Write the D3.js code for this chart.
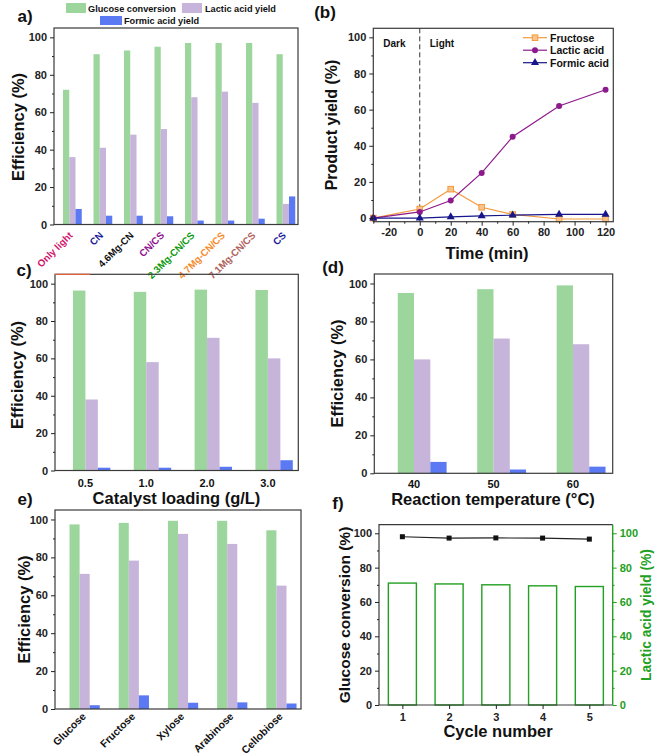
<!DOCTYPE html>
<html><head><meta charset="utf-8">
<script src="https://cdn.jsdelivr.net/npm/d3@7"></script>
<style>body{margin:0;background:#fff} text{font-family:"Liberation Sans",Arial,sans-serif;font-weight:bold}</style>
</head><body><svg id="c" width="661" height="755"></svg>
<script>
// ---------- data ----------
const catA = ["Only light","CN","4.6Mg-CN","CN/CS","2.3Mg-CN/CS","4.7Mg-CN/CS","7.1Mg-CN/CS","CS"];
const catAColors = ["#D1146A","#1B1B9A","#111111","#8E0F8E","#0E9A0E","#F58A2A","#B0605A","#1B1B9A"];
const glucoseA = [72,91,93,95,97,97,97,91];
const lacticA = [36,41,48,51,68,71,65,11];
const formicA = [8.3,4.7,4.7,4.4,2.1,2.1,3.1,15];

const timeB = [-30,0,20,40,60,90,120];
const fructoseB = [0,5,16,6,2,-0.5,-0.5];
const lacticB = [0,3.4,9.7,25,45,62,71];
const formicB = [0,0,0.7,1.2,1.6,2,2];

const catC = ["0.5","1.0","2.0","3.0"];
const glucoseC = [96.3,95.6,96.8,96.6];
const lacticC = [38,58,71,60];
const formicC = [1.5,1.5,2,5.5];

const catD = ["40","50","60"];
const glucoseD = [95,97,99];
const lacticD = [60,71,68];
const formicD = [6,2,3.5];

const catE = ["Glucose","Fructose","Xylose","Arabinose","Cellobiose"];
const glucoseE = [97.4,98.2,99.3,99.3,94.3];
const lacticE = [71.3,78.3,92.4,87.1,65.1];
const formicE = [2,7.2,3.3,3.5,2.9];

const cycles = [1,2,3,4,5];
const convF = [98,97.2,97.3,97.2,96.6];
const lacticF = [71,70.5,70,69.4,69];

const yMajor = [0,20,40,60,80,100];
const yMinor = [10,30,50,70,90];

// ---------- styles ----------
const GREEN="#9CD69C", PURPLE="#C6B4DA", BLUE="#5B79F2", FRAME="#3a3a3a";
const svg = d3.select("#c");

function styleAxis(g, color, fs){
  g.select(".domain").remove();
  g.selectAll("line").attr("stroke",color).attr("stroke-width",1);
  g.selectAll("text").attr("font-size",fs||11).attr("fill",color);
}
function leftAxis(y, x, color){
  color = color||"#222";
  svg.append("g").attr("transform",`translate(${x},0)`)
    .call(d3.axisLeft(y).tickValues(yMajor).tickSize(4).tickPadding(3))
    .call(g=>styleAxis(g,color));
  svg.append("g").attr("transform",`translate(${x},0)`)
    .call(d3.axisLeft(y).tickValues(yMinor).tickSize(2).tickFormat(""))
    .call(g=>styleAxis(g,color));
}
function frame(x0,yt,x1,yb){
  svg.append("rect").attr("x",x0).attr("y",yt).attr("width",x1-x0).attr("height",yb-yt)
    .attr("fill","none").attr("stroke",FRAME).attr("stroke-width",1.2);
}
function vTitle(txt,x,y,fs,color,rot){
  svg.append("text").attr("transform",`translate(${x},${y}) rotate(${rot||-90})`)
    .attr("text-anchor","middle").attr("dominant-baseline","central")
    .attr("font-size",fs).attr("fill",color||"#111").text(txt);
}
function hText(txt,x,y,fs,anchor,color){
  svg.append("text").attr("x",x).attr("y",y).attr("text-anchor",anchor||"middle")
    .attr("font-size",fs).attr("fill",color||"#111").text(txt);
}

function barPanel(p){
  const {x0,x1,yt,yb,cats,g,l,f} = p;
  const xb = d3.scaleBand().domain(cats).range([x0,x1]).padding(0);
  const sub = d3.scaleBand().domain(["_","g","l","f"]).range([0,xb.step()]).paddingInner(0).paddingOuter(0.44);
  const y = d3.scaleLinear().domain([0,105]).range([yb,yt]);
  [["g",g,GREEN],["l",l,PURPLE],["f",f,BLUE]].forEach(([k,vals,col])=>{
    svg.append("g").selectAll("rect").data(vals).join("rect")
      .attr("x",(d,i)=>xb(cats[i])+sub(k)).attr("width",sub.bandwidth())
      .attr("y",d=>y(d)).attr("height",d=>yb-y(d)).attr("fill",col);
  });
  frame(x0,yt,x1,yb);
  leftAxis(y,x0);
  return c=>xb(c)+sub("l");
}

// ---------- panel a ----------
{
  const tick = barPanel({x0:54,x1:298,yt:28,yb:224.5,cats:catA,g:glucoseA,l:lacticA,f:formicA});
  catA.forEach((c,i)=>{
    svg.append("text").attr("transform",`translate(${tick(c)+4},236) rotate(-45)`)
      .attr("text-anchor","end").attr("font-size",9.8).attr("fill",catAColors[i]).text(c);
  });
  vTitle("Efficiency (%)",17.5,127,16.5);
  hText("a)",25,22,17);
  // legend
  const lg = [["Glucose conversion",GREEN,66,3,20,10,88,8.5],["Lactic acid yield",PURPLE,182,3,20,10,205,8.5],["Formic acid yield",BLUE,100,16,22,9,124,20.8]];
  lg.forEach(([t,c,x,y,w,h,tx,ty])=>{
    svg.append("rect").attr("x",x).attr("y",y).attr("width",w).attr("height",h).attr("fill",c);
    svg.append("text").attr("x",tx).attr("y",ty).attr("dominant-baseline","central").attr("font-size",9.2).attr("fill","#111").text(t);
  });
}

// ---------- panel b ----------
{
  const x0=373.3,x1=613.3,yt=28.3,yb=221.7;
  const x = d3.scaleLinear().domain([-30,125]).range([x0,x1]);
  const y = d3.scaleLinear().domain([-2,105]).range([yb,yt]);
  svg.append("line").attr("x1",x(0)).attr("x2",x(0)).attr("y1",yt).attr("y2",yb)
    .attr("stroke","#333").attr("stroke-dasharray","5,3").attr("stroke-width",1);
  hText("Dark",x(-30)+10,46.5,10,"start");
  hText("Light",x(0)+10,46.5,10,"start");
  const series = [
    {name:"Fructose",vals:fructoseB,col:"#F39A3E",mk:"sq"},
    {name:"Lactic acid",vals:lacticB,col:"#8C1A8C",mk:"ci"},
    {name:"Formic acid",vals:formicB,col:"#16168A",mk:"tr"}
  ];
  const line = d3.line().x((d,i)=>x(timeB[i])).y(d=>y(d));
  function marker(sel,type,col){
    if(type==="sq") sel.append("rect").attr("x",-2.8).attr("y",-2.8).attr("width",5.6).attr("height",5.6)
        .attr("fill","#F8C48C").attr("stroke",col).attr("stroke-width",1);
    else if(type==="ci") sel.append("circle").attr("r",3).attr("fill",col);
    else sel.append("path").attr("d",d3.symbol(d3.symbolTriangle,28)()).attr("fill",col);
  }
  series.forEach(s=>{
    svg.append("path").attr("d",line(s.vals)).attr("fill","none").attr("stroke",s.col).attr("stroke-width",1.2);
    s.vals.forEach((v,i)=>{
      const g = svg.append("g").attr("transform",`translate(${x(timeB[i])},${y(v)})`);
      marker(g,s.mk,s.col);
    });
  });
  // legend
  series.forEach((s,i)=>{
    const yy = 37.7+i*12.5;
    svg.append("line").attr("x1",523).attr("x2",547).attr("y1",yy).attr("y2",yy).attr("stroke",s.col).attr("stroke-width",1.2);
    marker(svg.append("g").attr("transform",`translate(535,${yy})`),s.mk,s.col);
    svg.append("text").attr("x",550).attr("y",yy).attr("dominant-baseline","central").attr("font-size",10.5).attr("fill","#111").text(s.name);
  });
  frame(x0,yt,x1,yb);
  leftAxis(y,x0);
  svg.append("g").attr("transform",`translate(0,${yb})`)
    .call(d3.axisBottom(x).tickValues([-20,0,20,40,60,80,100,120]).tickSize(4).tickPadding(3).tickFormat(d=>String(d)))
    .call(g=>styleAxis(g,"#222"));
  svg.append("g").attr("transform",`translate(0,${yb})`)
    .call(d3.axisBottom(x).tickValues([-30,-10,10,30,50,70,90,110]).tickSize(2).tickFormat(""))
    .call(g=>styleAxis(g,"#222"));
  vTitle("Product yield (%)",331,125,16);
  hText("Time (min)",487,258.5,16.5);
  hText("(b)",325,18,17);
}

// ---------- panel c ----------
{
  const tick = barPanel({x0:55,x1:298.3,yt:274.3,yb:470.5,cats:catC,g:glucoseC,l:lacticC,f:formicC});
  catC.forEach(c=>hText(c,tick(c),487,11));
  svg.append("line").attr("x1",55).attr("x2",90).attr("y1",274.3).attr("y2",274.3).attr("stroke","#E0603A").attr("stroke-width",1.2);
  vTitle("Efficiency (%)",16.5,375,16.5);
  hText("Catalyst loading (g/L)",176.5,504,16.5);
  hText("c)",24,276,17);
}

// ---------- panel d ----------
{
  const tick = barPanel({x0:374.3,x1:612.7,yt:274,yb:473.3,cats:catD,g:glucoseD,l:lacticD,f:formicD});
  catD.forEach(c=>hText(c,tick(c),488,11));
  vTitle("Efficiency (%)",337,373.5,16.5);
  hText("Reaction temperature (°C)",493,505,16.5);
  hText("(d)",333,273,17);
}

// ---------- panel e ----------
{
  const tick = barPanel({x0:55,x1:301,yt:510,yb:709,cats:catE,g:glucoseE,l:lacticE,f:formicE});
  catE.forEach(c=>{
    svg.append("text").attr("transform",`translate(${tick(c)+7},717) rotate(-45)`)
      .attr("text-anchor","end").attr("font-size",10.5).attr("fill","#111").text(c);
  });
  vTitle("Efficiency (%)",24,609.5,16.5);
  hText("e)",25,505,17);
}

// ---------- panel f ----------
{
  const x0=379,x1=612.7,yt=524.7,yb=705;
  const x = d3.scaleLinear().domain([0.5,5.5]).range([x0,x1]);
  const y = d3.scaleLinear().domain([0,105]).range([yb,yt]);
  const FG = "#22A022";
  svg.append("g").selectAll("rect").data(lacticF).join("rect")
    .attr("x",(d,i)=>x(cycles[i]-0.3)).attr("width",x(0.8)-x(0.2))
    .attr("y",d=>y(d)).attr("height",d=>yb-y(d))
    .attr("fill","none").attr("stroke",FG).attr("stroke-width",1.4);
  const line = d3.line().x((d,i)=>x(cycles[i])).y(d=>y(d));
  svg.append("path").attr("d",line(convF)).attr("fill","none").attr("stroke","#222").attr("stroke-width",1.1);
  svg.append("g").selectAll("rect").data(convF).join("rect")
    .attr("x",(d,i)=>x(cycles[i])-2.5).attr("y",d=>y(d)-2.5).attr("width",5).attr("height",5).attr("fill","#111");
  svg.append("path").attr("d",`M${x1},${yt}H${x0}V${yb}H${x1}`).attr("fill","none").attr("stroke",FRAME).attr("stroke-width",1.2);
  svg.append("line").attr("x1",x1).attr("x2",x1).attr("y1",yt).attr("y2",yb).attr("stroke",FG).attr("stroke-width",1.4);
  leftAxis(y,x0);
  svg.append("g").attr("transform",`translate(${x1},0)`)
    .call(d3.axisRight(y).tickValues(yMajor).tickSize(4).tickPadding(3))
    .call(g=>styleAxis(g,FG));
  svg.append("g").attr("transform",`translate(${x1},0)`)
    .call(d3.axisRight(y).tickValues(yMinor).tickSize(2).tickFormat(""))
    .call(g=>styleAxis(g,FG));
  svg.append("g").attr("transform",`translate(0,${yb})`)
    .call(d3.axisBottom(x).tickValues(cycles).tickSize(4).tickPadding(4).tickFormat(d3.format("d")))
    .call(g=>styleAxis(g,"#222"));
  vTitle("Glucose conversion (%)",344.5,615,15.5);
  vTitle("Lactic acid yield (%)",646,615,13.8,FG);
  hText("Cycle number",498,737,16.5);
  hText("f)",338,509,17);
}
</script></body></html>
